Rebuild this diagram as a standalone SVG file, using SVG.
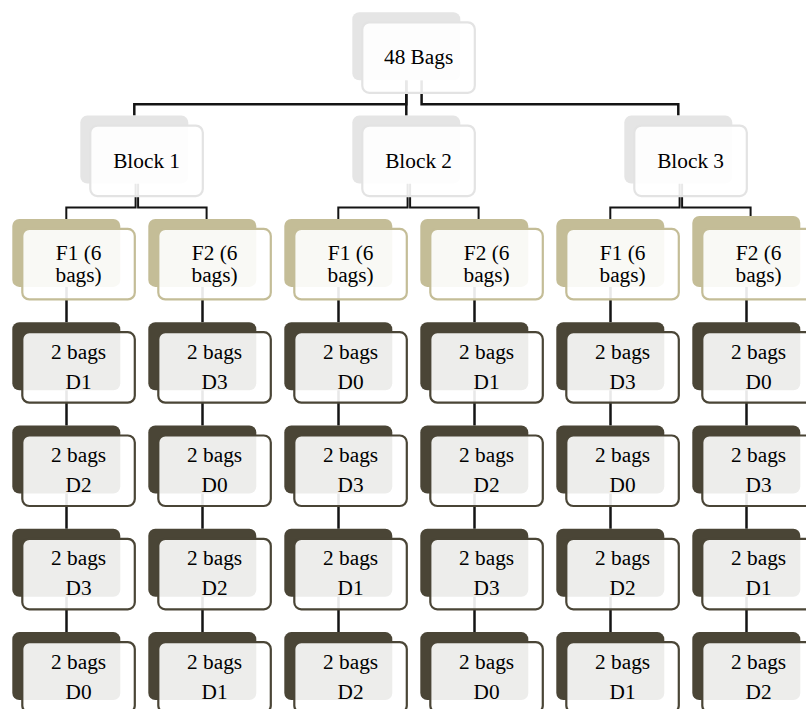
<svg xmlns="http://www.w3.org/2000/svg" width="806" height="709" viewBox="0 0 806 709">
<style>
.conn path{fill:none;stroke:#141414;stroke-width:2.5}
.conn .thin{stroke-width:2}
.bk{stroke:none}
.fr{fill:#ffffff;fill-opacity:0.9;stroke-width:2.2}
.g .bk{fill:#e5e5e5}
.g .fr{stroke:#e3e3e3}
.t .bk{fill:#c4bd97}
.t .fr{stroke:#c4bd97}
.d .bk{fill:#4a4536}
.d .fr{stroke:#4a4536}
text{font-family:"Liberation Serif","Times New Roman",serif;font-size:21.3px;fill:#000;text-anchor:middle}
</style>
<rect width="806" height="709" fill="#ffffff"/>
<g id="connectors" class="conn">
<path d="M406.3 80.3V115.6"/>
<path d="M406.3 80.3V104.3H134.3V115.6"/>
<path d="M421.6 80.3V104.3H678.3V115.6"/>
<path class="thin" d="M135.6 183.6V207.6H66.3V218.9"/>
<path class="thin" d="M138.1 183.6V207.6H206.6V218.9"/>
<path class="thin" d="M407.6 183.6V207.6H338.3V218.9"/>
<path class="thin" d="M410.1 183.6V207.6H478.6V218.9"/>
<path class="thin" d="M679.6 183.6V207.6H610.3V218.9"/>
<path class="thin" d="M682.1 183.6V207.6H750.6V218.9"/>
<path d="M66.5 286.9V322.2M66.5 390.2V425.5M66.5 493.5V528.8M66.5 596.8V632.1"/>
<path d="M202.5 286.9V322.2M202.5 390.2V425.5M202.5 493.5V528.8M202.5 596.8V632.1"/>
<path d="M338.5 286.9V322.2M338.5 390.2V425.5M338.5 493.5V528.8M338.5 596.8V632.1"/>
<path d="M474.5 286.9V322.2M474.5 390.2V425.5M474.5 493.5V528.8M474.5 596.8V632.1"/>
<path d="M610.5 286.9V322.2M610.5 390.2V425.5M610.5 493.5V528.8M610.5 596.8V632.1"/>
<path d="M746.5 286.9V322.2M746.5 390.2V425.5M746.5 493.5V528.8M746.5 596.8V632.1"/>
</g>

<g id="n-top" class="g"><rect class="bk" x="352.3" y="12.3" width="108" height="68" rx="7"/><rect class="fr" x="362.3" y="22.3" width="112.5" height="70.5" rx="7"/><text x="418.6" y="64.3">48 Bags</text></g>

<g id="n-b1" class="g"><rect class="bk" x="80.3" y="115.6" width="108" height="68" rx="7"/><rect class="fr" x="90.3" y="125.6" width="112.5" height="70.5" rx="7"/><text x="146.6" y="167.6">Block 1</text></g>
<g id="n-b2" class="g"><rect class="bk" x="352.3" y="115.6" width="108" height="68" rx="7"/><rect class="fr" x="362.3" y="125.6" width="112.5" height="70.5" rx="7"/><text x="418.6" y="167.6">Block 2</text></g>
<g id="n-b3" class="g"><rect class="bk" x="624.3" y="115.6" width="108" height="68" rx="7"/><rect class="fr" x="634.3" y="125.6" width="112.5" height="70.5" rx="7"/><text x="690.6" y="167.6">Block 3</text></g>

<g id="n-b1f1" class="t"><rect class="bk" x="12.3" y="218.9" width="108" height="68" rx="7"/><rect class="fr" x="22.3" y="228.9" width="112.5" height="70.5" rx="7"/><text x="78.6" y="259.9">F1 (6</text><text x="78.6" y="281.7">bags)</text></g>
<g id="n-b1f2" class="t"><rect class="bk" x="148.3" y="218.9" width="108" height="68" rx="7"/><rect class="fr" x="158.3" y="228.9" width="112.5" height="70.5" rx="7"/><text x="214.6" y="259.9">F2 (6</text><text x="214.6" y="281.7">bags)</text></g>
<g id="n-b2f1" class="t"><rect class="bk" x="284.3" y="218.9" width="108" height="68" rx="7"/><rect class="fr" x="294.3" y="228.9" width="112.5" height="70.5" rx="7"/><text x="350.6" y="259.9">F1 (6</text><text x="350.6" y="281.7">bags)</text></g>
<g id="n-b2f2" class="t"><rect class="bk" x="420.3" y="218.9" width="108" height="68" rx="7"/><rect class="fr" x="430.3" y="228.9" width="112.5" height="70.5" rx="7"/><text x="486.6" y="259.9">F2 (6</text><text x="486.6" y="281.7">bags)</text></g>
<g id="n-b3f1" class="t"><rect class="bk" x="556.3" y="218.9" width="108" height="68" rx="7"/><rect class="fr" x="566.3" y="228.9" width="112.5" height="70.5" rx="7"/><text x="622.6" y="259.9">F1 (6</text><text x="622.6" y="281.7">bags)</text></g>
<g id="n-b3f2" class="t"><rect class="bk" x="692.3" y="216" width="108" height="71" rx="7"/><rect class="fr" x="702.3" y="228.9" width="112.5" height="70.5" rx="7"/><text x="758.6" y="259.9">F2 (6</text><text x="758.6" y="281.7">bags)</text></g>

<g id="n-c0r1" class="d"><rect class="bk" x="12.3" y="322.2" width="108" height="68" rx="7"/><rect class="fr" x="22.3" y="332.2" width="112.5" height="70.5" rx="7"/><text x="78.6" y="358.8">2 bags</text><text x="78.6" y="388.8">D1</text></g>
<g id="n-c0r2" class="d"><rect class="bk" x="12.3" y="425.5" width="108" height="68" rx="7"/><rect class="fr" x="22.3" y="435.5" width="112.5" height="70.5" rx="7"/><text x="78.6" y="462.1">2 bags</text><text x="78.6" y="492.1">D2</text></g>
<g id="n-c0r3" class="d"><rect class="bk" x="12.3" y="528.8" width="108" height="68" rx="7"/><rect class="fr" x="22.3" y="538.8" width="112.5" height="70.5" rx="7"/><text x="78.6" y="565.4">2 bags</text><text x="78.6" y="595.4">D3</text></g>
<g id="n-c0r4" class="d"><rect class="bk" x="12.3" y="632.1" width="108" height="68" rx="7"/><rect class="fr" x="22.3" y="642.1" width="112.5" height="70.5" rx="7"/><text x="78.6" y="668.7">2 bags</text><text x="78.6" y="698.7">D0</text></g>

<g id="n-c1r1" class="d"><rect class="bk" x="148.3" y="322.2" width="108" height="68" rx="7"/><rect class="fr" x="158.3" y="332.2" width="112.5" height="70.5" rx="7"/><text x="214.6" y="358.8">2 bags</text><text x="214.6" y="388.8">D3</text></g>
<g id="n-c1r2" class="d"><rect class="bk" x="148.3" y="425.5" width="108" height="68" rx="7"/><rect class="fr" x="158.3" y="435.5" width="112.5" height="70.5" rx="7"/><text x="214.6" y="462.1">2 bags</text><text x="214.6" y="492.1">D0</text></g>
<g id="n-c1r3" class="d"><rect class="bk" x="148.3" y="528.8" width="108" height="68" rx="7"/><rect class="fr" x="158.3" y="538.8" width="112.5" height="70.5" rx="7"/><text x="214.6" y="565.4">2 bags</text><text x="214.6" y="595.4">D2</text></g>
<g id="n-c1r4" class="d"><rect class="bk" x="148.3" y="632.1" width="108" height="68" rx="7"/><rect class="fr" x="158.3" y="642.1" width="112.5" height="70.5" rx="7"/><text x="214.6" y="668.7">2 bags</text><text x="214.6" y="698.7">D1</text></g>

<g id="n-c2r1" class="d"><rect class="bk" x="284.3" y="322.2" width="108" height="68" rx="7"/><rect class="fr" x="294.3" y="332.2" width="112.5" height="70.5" rx="7"/><text x="350.6" y="358.8">2 bags</text><text x="350.6" y="388.8">D0</text></g>
<g id="n-c2r2" class="d"><rect class="bk" x="284.3" y="425.5" width="108" height="68" rx="7"/><rect class="fr" x="294.3" y="435.5" width="112.5" height="70.5" rx="7"/><text x="350.6" y="462.1">2 bags</text><text x="350.6" y="492.1">D3</text></g>
<g id="n-c2r3" class="d"><rect class="bk" x="284.3" y="528.8" width="108" height="68" rx="7"/><rect class="fr" x="294.3" y="538.8" width="112.5" height="70.5" rx="7"/><text x="350.6" y="565.4">2 bags</text><text x="350.6" y="595.4">D1</text></g>
<g id="n-c2r4" class="d"><rect class="bk" x="284.3" y="632.1" width="108" height="68" rx="7"/><rect class="fr" x="294.3" y="642.1" width="112.5" height="70.5" rx="7"/><text x="350.6" y="668.7">2 bags</text><text x="350.6" y="698.7">D2</text></g>

<g id="n-c3r1" class="d"><rect class="bk" x="420.3" y="322.2" width="108" height="68" rx="7"/><rect class="fr" x="430.3" y="332.2" width="112.5" height="70.5" rx="7"/><text x="486.6" y="358.8">2 bags</text><text x="486.6" y="388.8">D1</text></g>
<g id="n-c3r2" class="d"><rect class="bk" x="420.3" y="425.5" width="108" height="68" rx="7"/><rect class="fr" x="430.3" y="435.5" width="112.5" height="70.5" rx="7"/><text x="486.6" y="462.1">2 bags</text><text x="486.6" y="492.1">D2</text></g>
<g id="n-c3r3" class="d"><rect class="bk" x="420.3" y="528.8" width="108" height="68" rx="7"/><rect class="fr" x="430.3" y="538.8" width="112.5" height="70.5" rx="7"/><text x="486.6" y="565.4">2 bags</text><text x="486.6" y="595.4">D3</text></g>
<g id="n-c3r4" class="d"><rect class="bk" x="420.3" y="632.1" width="108" height="68" rx="7"/><rect class="fr" x="430.3" y="642.1" width="112.5" height="70.5" rx="7"/><text x="486.6" y="668.7">2 bags</text><text x="486.6" y="698.7">D0</text></g>

<g id="n-c4r1" class="d"><rect class="bk" x="556.3" y="322.2" width="108" height="68" rx="7"/><rect class="fr" x="566.3" y="332.2" width="112.5" height="70.5" rx="7"/><text x="622.6" y="358.8">2 bags</text><text x="622.6" y="388.8">D3</text></g>
<g id="n-c4r2" class="d"><rect class="bk" x="556.3" y="425.5" width="108" height="68" rx="7"/><rect class="fr" x="566.3" y="435.5" width="112.5" height="70.5" rx="7"/><text x="622.6" y="462.1">2 bags</text><text x="622.6" y="492.1">D0</text></g>
<g id="n-c4r3" class="d"><rect class="bk" x="556.3" y="528.8" width="108" height="68" rx="7"/><rect class="fr" x="566.3" y="538.8" width="112.5" height="70.5" rx="7"/><text x="622.6" y="565.4">2 bags</text><text x="622.6" y="595.4">D2</text></g>
<g id="n-c4r4" class="d"><rect class="bk" x="556.3" y="632.1" width="108" height="68" rx="7"/><rect class="fr" x="566.3" y="642.1" width="112.5" height="70.5" rx="7"/><text x="622.6" y="668.7">2 bags</text><text x="622.6" y="698.7">D1</text></g>

<g id="n-c5r1" class="d"><rect class="bk" x="692.3" y="322.2" width="108" height="68" rx="7"/><rect class="fr" x="702.3" y="332.2" width="112.5" height="70.5" rx="7"/><text x="758.6" y="358.8">2 bags</text><text x="758.6" y="388.8">D0</text></g>
<g id="n-c5r2" class="d"><rect class="bk" x="692.3" y="425.5" width="108" height="68" rx="7"/><rect class="fr" x="702.3" y="435.5" width="112.5" height="70.5" rx="7"/><text x="758.6" y="462.1">2 bags</text><text x="758.6" y="492.1">D3</text></g>
<g id="n-c5r3" class="d"><rect class="bk" x="692.3" y="528.8" width="108" height="68" rx="7"/><rect class="fr" x="702.3" y="538.8" width="112.5" height="70.5" rx="7"/><text x="758.6" y="565.4">2 bags</text><text x="758.6" y="595.4">D1</text></g>
<g id="n-c5r4" class="d"><rect class="bk" x="692.3" y="632.1" width="108" height="68" rx="7"/><rect class="fr" x="702.3" y="642.1" width="112.5" height="70.5" rx="7"/><text x="758.6" y="668.7">2 bags</text><text x="758.6" y="698.7">D2</text></g>
</svg>
